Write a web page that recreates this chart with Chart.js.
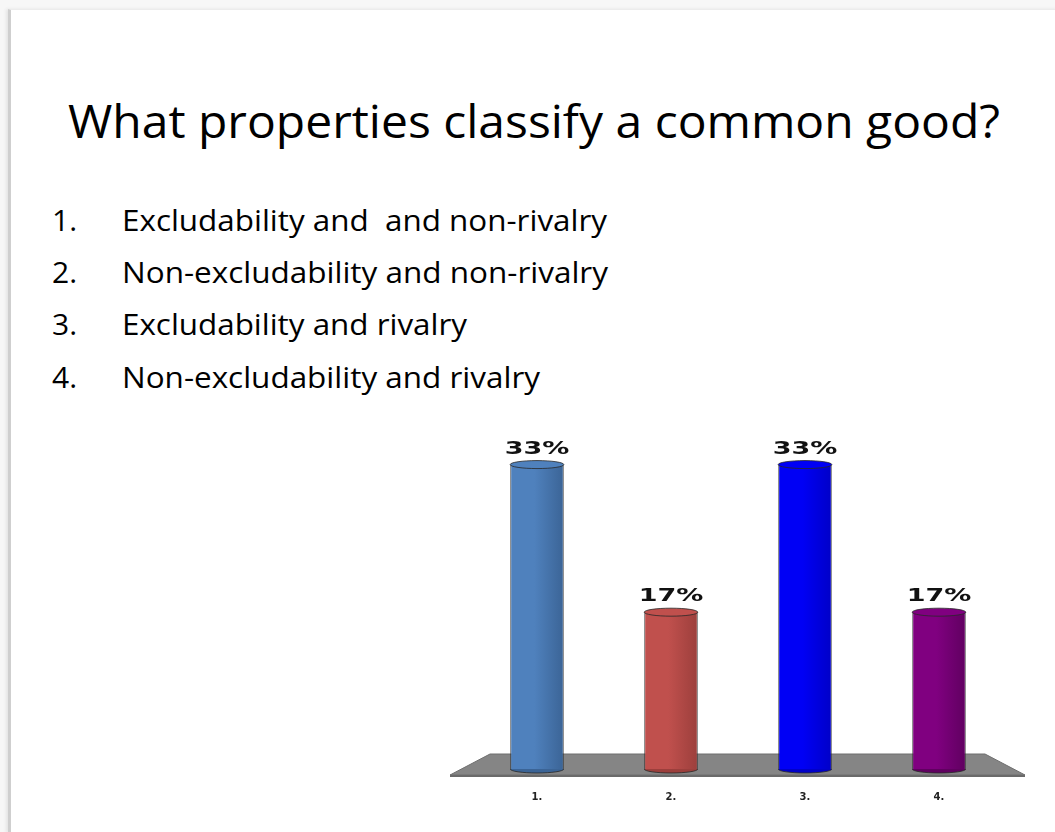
<!DOCTYPE html>
<html>
<head>
<meta charset="utf-8">
<script src="https://cdn.jsdelivr.net/npm/chart.js@4.4.1/dist/chart.umd.min.js"></script>
<style>
  html, body { margin: 0; padding: 0; width: 1055px; height: 832px; overflow: hidden; background: #f7f7f7; }
  #slide { position: absolute; left: 8px; top: 9px; width: 1047px; height: 823px; background: #fff;
           border-left: 3px solid #cfcfcf; border-top: 1px solid #ececec; box-shadow: -2px 0 3px #e4e4e4; }
  .t { position: absolute; white-space: pre; color: #000; font-family: "Open Sans", sans-serif; line-height: 1; transform-origin: 0 0; }
  #title { font-size: 45px; }
  .item { font-size: 30px; }
  #chartwrap { position: absolute; left: 0; top: 0; width: 1055px; height: 832px; }
</style>
</head>
<body>
<div id="slide"></div>
<div id="texts"></div>
<div id="chartwrap"><canvas id="c" width="1055" height="832"></canvas></div>
<script>
// ---- data ----
const titleText = "What properties classify a common good?";
const optionNumbers = ["1.", "2.", "3.", "4."];
const optionTexts = [
  "Excludability and  and non-rivalry",
  "Non-excludability and non-rivalry",
  "Excludability and rivalry",
  "Non-excludability and rivalry"
];
const categories = ["1.", "2.", "3.", "4."];
const percentValues = [33, 17, 33, 17];
const valueLabels = ["33%", "17%", "33%", "17%"];
const barColors = ["#4f81bd", "#c0504d", "#0000f5", "#800080"];
const barShades = ["#3b6496", "#9c3f3c", "#0000c8", "#600060"];

// ---- text layout (HTML) ----
const texts = document.getElementById('texts');
function addText(str, cls, left, baseline, fs, targetW, id) {
  const d = document.createElement('div');
  d.className = 't ' + cls;
  if (id) d.id = id;
  d.textContent = str;
  d.style.left = left + 'px';
  d.style.top = (baseline - 0.888 * fs) + 'px';
  texts.appendChild(d);
  if (targetW) {
    const w = d.getBoundingClientRect().width;
    if (w > 0) d.style.transform = 'scaleX(' + (targetW / w) + ')';
  }
  return d;
}
addText(titleText, '', 68, 138, 45, 932, 'title');
const baselines = [232, 284, 336, 389];
const itemWidths = [485, 486, 345, 418];
optionTexts.forEach((s, i) => {
  addText(optionNumbers[i], 'item', 52, baselines[i], 30, null);
  addText(s, 'item', 122, baselines[i], 30, itemWidths[i]);
});

// ---- chart ----
function barGradient(ctx) {
  const chart = ctx.chart;
  const i = ctx.dataIndex;
  const xs = chart.scales && chart.scales.x;
  if (!xs || !chart.chartArea || i === undefined) return barColors[i || 0];
  const cx = xs.getPixelForValue(i);
  const half = xs.width / categories.length * 0.4 / 2;
  const g = chart.ctx.createLinearGradient(cx - half, 0, cx + half, 0);
  g.addColorStop(0, barColors[i]);
  g.addColorStop(0.45, barColors[i]);
  g.addColorStop(1, barShades[i]);
  return g;
}

const floorPlugin = {
  id: 'floor',
  beforeDatasetsDraw(chart) {
    const { ctx, chartArea, scales } = chart;
    const base = scales.y.getPixelForValue(0);
    const l = chartArea.left, r = chartArea.right;
    ctx.save();
    ctx.beginPath();
    ctx.moveTo(l + 20, base - 15);
    ctx.lineTo(r - 21, base - 15);
    ctx.lineTo(r + 19, base + 6);
    ctx.lineTo(l - 20, base + 6);
    ctx.closePath();
    ctx.fillStyle = '#858585';
    ctx.fill();
    ctx.strokeStyle = '#6e6e6e';
    ctx.lineWidth = 1;
    ctx.stroke();
    ctx.fillStyle = '#6a6a6a';
    ctx.fillRect(l - 20, base + 6, r - l + 39, 2);
    ctx.restore();
  }
};

const cylinderPlugin = {
  id: 'cylinder',
  afterDatasetsDraw(chart) {
    const { ctx } = chart;
    const meta = chart.getDatasetMeta(0);
    meta.data.forEach((bar, i) => {
      const w = bar.width, x = bar.x, top = bar.y, base = bar.base;
      const rx = w / 2, ry = 4;
      ctx.save();
      ctx.beginPath();
      ctx.ellipse(x, base, rx, ry, 0, 0, Math.PI);
      ctx.fillStyle = barShades[i];
      ctx.fill();
      ctx.strokeStyle = 'rgba(40,40,40,0.8)';
      ctx.lineWidth = 1;
      ctx.stroke();
      ctx.beginPath();
      ctx.ellipse(x, top, rx, ry, 0, 0, Math.PI * 2);
      ctx.fillStyle = barColors[i];
      ctx.fill();
      ctx.stroke();
      ctx.fillStyle = '#111';
      ctx.font = 'bold 18px "DejaVu Sans"';
      ctx.textAlign = 'center';
      ctx.textBaseline = 'alphabetic';
      ctx.translate(x, top - 11);
      ctx.scale(1.5, 1);
      ctx.fillText(valueLabels[i], 0, 0);
      ctx.restore();
    });
  }
};

new Chart(document.getElementById('c'), {
  type: 'bar',
  data: {
    labels: categories,
    datasets: [{
      data: percentValues,
      backgroundColor: barGradient,
      borderColor: 'rgba(40,40,40,0.8)',
      borderWidth: { left: 1, right: 1, top: 0, bottom: 0 },
      barPercentage: 0.4,
      categoryPercentage: 1.0
    }]
  },
  options: {
    responsive: false,
    animation: false,
    devicePixelRatio: 1,
    layout: { padding: { left: 470, right: 49, top: 400, bottom: 7 } },
    plugins: { legend: { display: false }, tooltip: { enabled: false }, title: { display: false } },
    scales: {
      x: {
        grid: { display: false, drawTicks: false },
        border: { display: false },
        ticks: { padding: 22, color: '#222', font: { family: 'DejaVu Sans', size: 10, weight: 'bold' } }
      },
      y: { display: false, min: 0, max: 40 }
    }
  },
  plugins: [floorPlugin, cylinderPlugin]
});
</script>
</body>
</html>
